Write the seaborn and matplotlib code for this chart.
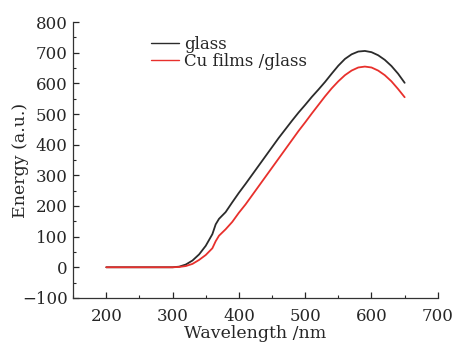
import numpy as np
import pandas as pd
import matplotlib
matplotlib.use("Agg")
import matplotlib.pyplot as plt
import seaborn as sns
from matplotlib.ticker import MultipleLocator

wavelength = [200, 210, 220, 230, 240, 250, 260, 270, 280, 290, 300, 310, 320, 330, 340, 350,
              360, 365, 370, 380, 390, 400, 410, 420, 430, 440, 450, 460, 470, 480, 490,
              500, 510, 520, 530, 540, 550, 560, 570, 580, 590, 600, 610, 620, 630, 640, 650]
glass = [0, 0, 0, 0, 0, 0, 0, 0, 0, 0, 0, 2, 9, 22, 42, 70,
         108, 140, 158, 180, 212, 243, 272, 302, 332, 362, 392, 422, 450, 478, 505,
         530, 556, 580, 605, 632, 658, 680, 695, 704, 706, 702, 692, 677, 657, 632, 602]
cu_films = [0, 0, 0, 0, 0, 0, 0, 0, 0, 0, 0, 1, 4, 11, 24, 40,
            62, 85, 103, 124, 148, 178, 205, 235, 265, 295, 325, 355, 385, 415, 445,
            473, 502, 530, 558, 584, 607, 627, 642, 652, 655, 652, 642, 627, 607, 582, 555]
labels = ["glass", "Cu films /glass"]
colors = ["#2b2b2b", "#e8302c"]

df = pd.DataFrame({
    "Wavelength": wavelength * 2,
    "Energy": glass + cu_films,
    "Sample": [labels[0]] * len(wavelength) + [labels[1]] * len(wavelength),
})

sns.set_style("ticks")
plt.rcParams["font.family"] = ["DejaVu Serif"]
plt.rcParams["axes.unicode_minus"] = True

fig = plt.figure(figsize=(4.57, 3.46), dpi=100)
ax = fig.add_axes([0.16, 0.139, 0.798, 0.797])
sns.lineplot(data=df, x="Wavelength", y="Energy", hue="Sample", palette=colors,
             linewidth=1.3, ax=ax, legend=True)

ax.set_xlim(150, 700)
ax.set_ylim(-100, 800)
ax.xaxis.set_major_locator(MultipleLocator(100))
ax.xaxis.set_minor_locator(MultipleLocator(50))
ax.yaxis.set_major_locator(MultipleLocator(100))
ax.yaxis.set_minor_locator(MultipleLocator(50))
ax.tick_params(which="major", direction="in", length=4, width=0.9, labelsize=12, pad=4)
ax.tick_params(axis="x", which="major", pad=7)
ax.tick_params(which="minor", direction="in", length=2.5, width=0.8)
for s in ["top", "right"]:
    ax.spines[s].set_visible(False)
for s in ["left", "bottom"]:
    ax.spines[s].set_linewidth(0.9)
    ax.spines[s].set_color("#333333")

ax.set_xlabel("Wavelength /nm", fontsize=12.5)
ax.set_ylabel("Energy (a.u.)", fontsize=12.5)
ax.xaxis.set_label_coords(0.5, -0.1)
ax.yaxis.set_label_coords(-0.12, 0.5)

leg = ax.legend(loc="upper left", bbox_to_anchor=(0.195, 0.975), frameon=False,
                fontsize=12, handlelength=1.7, handletextpad=0.3,
                labelspacing=0.0, borderaxespad=0)
for line in leg.get_lines():
    line.set_linewidth(1.0)

fig.savefig("out.png", dpi=100)
